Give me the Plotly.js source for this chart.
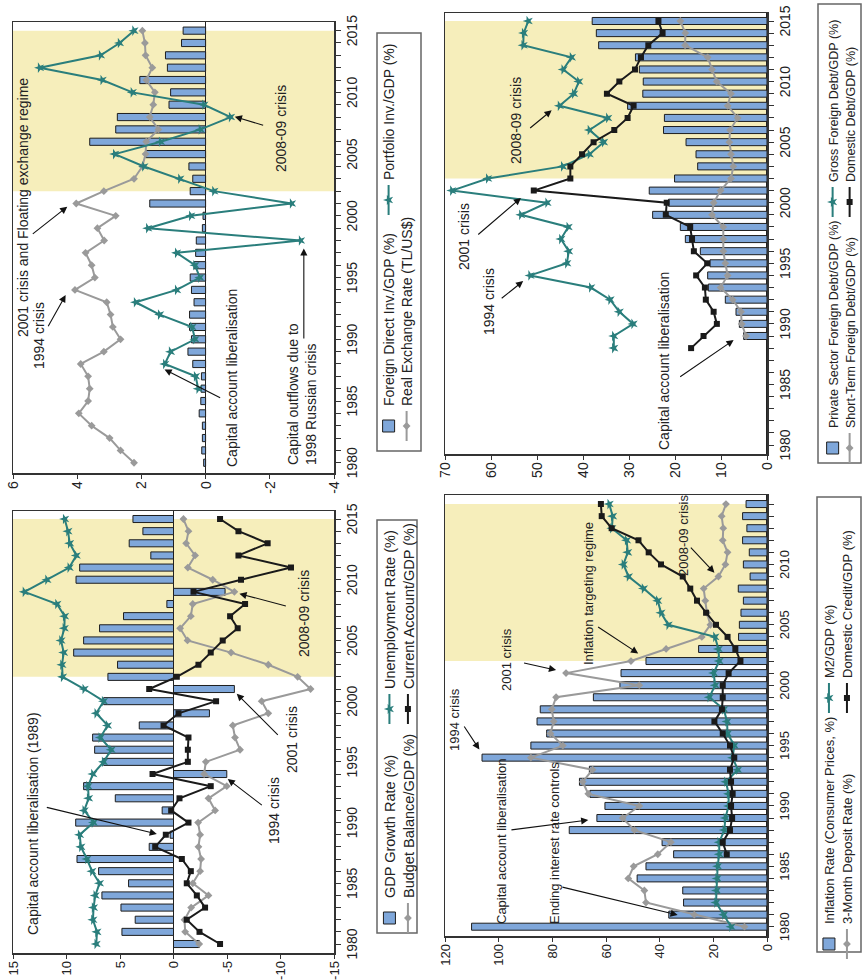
<!DOCTYPE html>
<html>
<head>
<meta charset="utf-8">
<script src="https://cdn.plot.ly/plotly-3.0.1.min.js"></script>
<style>
html,body{margin:0;padding:0;background:#fff;width:862px;height:980px;overflow:hidden}
#page{position:absolute;left:0;top:0;width:980px;height:862px;transform-origin:0 0;transform:translateY(980px) rotate(-90deg);background:#fff}
.panel{position:absolute;height:431px}
</style>
</head>
<body>
<div id="page">
  <div id="gdp" class="panel" style="left:0;top:0;width:490px"></div>
  <div id="fdi" class="panel" style="left:480px;top:0;width:500px"></div>
  <div id="infl" class="panel" style="left:0;top:431px;width:490px"></div>
  <div id="debt" class="panel" style="left:490px;top:431px;width:490px"></div>
</div>
<script>
// ---------------- DATA ----------------
const years = [1980,1981,1982,1983,1984,1985,1986,1987,1988,1989,1990,1991,1992,1993,1994,1995,1996,1997,1998,1999,2000,2001,2002,2003,2004,2005,2006,2007,2008,2009,2010,2011,2012,2013,2014,2015];

// Panel: GDP growth, unemployment, budget balance, current account (%)
const gdpGrowth = [-2.43,4.82,3.58,4.91,6.69,4.2,7.0,9.02,2.27,0.31,9.14,1.06,5.44,8.4,-4.98,6.53,7.37,7.56,3.2,-3.36,6.53,-5.69,6.13,5.23,9.33,8.4,6.91,4.67,0.62,-4.82,9.11,8.77,2.12,4.14,2.86,3.79];
const unemployment = [7.22,7.15,7.53,7.47,7.31,6.91,7.62,8.09,8.65,8.77,7.47,8.34,7.93,7.99,7.53,6.53,5.82,6.84,6.16,7.22,6.53,8.34,10.36,10.42,10.26,10.51,10.2,10.17,10.89,13.93,11.82,9.74,9.08,9.7,9.86,10.17];
const budgetBalance = [-2.4,-1.09,-1.03,-1.65,-3.27,-1.8,-2.49,-2.58,-2.33,-2.49,-2.3,-3.89,-3.27,-4.98,-2.86,-3.02,-6.22,-5.75,-5.54,-8.86,-8.24,-12.81,-11.6,-8.86,-5.38,-1.31,-0.62,-1.62,-1.8,-5.69,-3.67,-1.34,-2.02,-1.18,-1.4,-0.93];
const currentAccount = [-4.35,-2.43,-1.24,-2.95,-2.18,-1.24,-1.62,-0.78,1.71,0.72,-1.4,0.22,-0.56,-3.48,1.96,-1.34,-1.34,-1.4,0.93,-0.47,-3.98,2.27,-0.31,-2.33,-3.48,-4.6,-6.0,-5.29,-6.69,-1.87,-6.31,-10.98,-6.07,-8.8,-6.07,-4.35];

// Panel: FDI, portfolio investment (% GDP), real exchange rate (TL/US$)
const fdiGDP = [0.06,0.12,0.1,0.1,0.2,0.15,0.14,0.13,0.4,0.55,0.44,0.5,0.5,0.36,0.44,0.48,0.36,0.31,0.29,0.1,0.08,1.74,0.48,0.4,0.52,1.87,3.61,2.8,2.75,1.14,1.09,2.05,1.19,1.25,0.75,0.7];
const portfolioGDP = [null,null,null,null,null,null,0.23,0.31,1.27,1.09,0.33,0.42,1.43,2.18,0.9,0.18,0.33,0.9,-2.96,1.8,0.46,-2.68,-0.26,0.8,1.92,2.83,1.4,0.16,-0.78,0.05,2.28,3.22,5.17,3.27,2.68,2.23];
const realExRate = [2.23,2.65,2.99,3.55,3.95,3.66,3.61,3.66,3.89,3.17,2.65,2.89,2.96,3.08,4.07,3.45,3.55,3.74,3.16,3.37,2.8,4.03,3.17,2.23,1.97,1.87,1.85,1.47,1.74,1.63,1.58,1.85,1.66,1.87,1.89,1.97];

// Panel: inflation, deposit rate, M2/GDP, domestic credit/GDP (%)
const inflation = [110.1,36.6,31.1,31.4,48.4,45.1,34.8,39.1,73.7,63.4,60.4,66.0,69.9,66.2,106.2,88.0,82.1,85.7,84.5,64.7,54.8,54.4,45.1,25.5,10.6,10.3,9.7,8.8,10.7,6.3,8.8,6.6,9.1,7.5,9.1,7.8];
const depositRate = [8.4,27.1,45.1,45.7,51.7,49.7,40.7,35.8,49.4,53.8,47.6,66.6,68.7,65.0,88.0,76.1,80.7,79.5,80.2,78.6,47.6,74.9,50.7,37.6,24.3,21.1,22.4,23.0,23.6,18.1,15.5,14.7,16.5,16.3,16.9,15.3];
const m2GDP = [13.4,16.1,19.0,18.8,18.6,18.4,17.8,17.8,15.9,15.5,14.3,14.3,15.3,10.9,12.8,12.2,14.7,14.9,16.1,21.5,19.3,19.9,17.8,18.1,19.4,36.8,39.5,40.7,46.0,51.6,53.5,51.9,52.3,57.8,57.5,58.8];
const domesticCredit = [null,null,null,null,null,null,15.0,16.5,13.8,13.0,13.4,12.8,13.4,13.8,12.2,13.8,16.5,19.6,16.8,16.5,16.5,14.3,9.9,11.8,14.7,19.0,22.7,26.1,28.6,31.4,39.5,44.1,47.9,57.9,61.6,61.9];

// Panel: debt ratios (% GDP)
const privateDebt = [null,null,null,null,null,null,null,null,null,5.07,6.01,6.74,9.06,12.75,12.9,12.39,14.49,17.75,18.84,24.86,21.4,25.6,20.1,15.07,15.43,17.6,22.5,22.3,30.3,27.0,26.9,27.75,28.6,36.6,37.1,38.0];
const grossDebt = [null,null,null,null,null,null,null,null,33.3,33.3,29.1,32.1,34.1,38.3,51.5,43.5,43.1,44.8,43.2,53.5,47.8,68.5,60.7,44.4,38.6,35.5,38.6,34.6,45.1,42.0,40.9,44.3,42.5,53.0,52.9,51.9];
const shortTermDebt = [null,null,null,null,null,null,null,null,null,4.57,5.5,5.65,7.46,10.1,8.55,9.06,9.5,9.5,9.5,11.96,11.6,10.1,7.83,7.32,7.83,8.19,8.04,6.38,8.55,7.83,10.94,11.96,12.9,17.8,17.75,18.84];
const domesticDebt = [null,null,null,null,null,null,null,null,16.5,13.8,10.9,11.6,13.3,13.5,15.4,13.0,15.9,16.3,16.7,22.0,21.8,50.7,42.75,42.75,40.2,37.7,33.2,30.3,29.0,34.8,32.1,28.7,27.4,25.8,22.7,23.6];

// Tick labels
const gdpTicks = [-15,-10,-5,0,5,10,15];
const gdpTickText = ['-15','-10','-5','0','5','10','15'];
const fdiTicks = [-4,-2,0,2,4,6];
const fdiTickText = ['-4','-2','0','2','4','6'];
const inflTicks = [0,20,40,60,80,100,120];
const debtTicks = [0,10,20,30,40,50,60,70];
const shadeStart = 2002, shadeEnd = 2015;

// ---------------- STYLE ----------------
const FONT = '"Liberation Sans", Arial, Helvetica, sans-serif';
const INK = '#222';
const H = 431;
function bar(y, name, lg) {
  return {type:'bar', x:years, y:y, name:name, legend:lg, width:0.58,
    marker:{color:'#7fa7da', line:{color:'#1e1e1e', width:1}}, hoverinfo:'skip'};
}
function line(y, name, lg, kind) {
  const st = {
    gray:{c:'#9a9a9a', s:'diamond', z:6},
    teal:{c:'#2a7e7c', s:'star', z:8},
    black:{c:'#1a1a1a', s:'square', z:6}
  }[kind];
  return {type:'scatter', mode:'lines+markers', x:years, y:y, name:name, legend:lg,
    connectgaps:false, line:{color:st.c, width:2}, marker:{symbol:st.s, size:st.z, color:st.c},
    hoverinfo:'skip'};
}
function note(x, y, text, size, opts) {
  return Object.assign({x:x, y:y, xref:'x', yref:'y', text:text, showarrow:false,
    font:{family:FONT, size:size, color:INK}}, opts || {});
}
function arrow(x0, y0, x1, y1) {
  return {x:x1, y:y1, ax:x0, ay:y0, xref:'x', yref:'y', axref:'x', ayref:'y', text:'',
    showarrow:true, arrowhead:2, arrowsize:1.3, arrowwidth:1.1, arrowcolor:'#111', standoff:0, startstandoff:0};
}
function makeLayout(c) {
  const W = c.w;
  const [l, r, t, b] = c.m;
  const pw = W - l - r, ph = H - t - b;
  const px = v => (v - l) / pw, py = v => (H - b - v) / ph;
  const axisLine = {showline:true, mirror:true, linecolor:'#333', linewidth:1.5, showgrid:false};
  const lay = {
    width:W, height:H,
    margin:{l:l, r:r, t:t, b:b, pad:0},
    paper_bgcolor:'rgba(0,0,0,0)', plot_bgcolor:'#fff',
    font:{family:FONT, size:14, color:INK},
    showlegend:true, bargap:0, barmode:'overlay',
    xaxis:Object.assign({range:c.xr, tick0:1980, dtick:5, ticks:'outside', ticklen:5, tickcolor:'#333',
      minor:{dtick:1, ticks:'outside', ticklen:5, tickcolor:'#333'}, zeroline:false, fixedrange:true,
      tickfont:{family:FONT, size:c.xf, color:INK}}, axisLine),
    yaxis:Object.assign({range:c.yr, tickvals:c.yt, ticktext:c.ytt, ticks:'outside', ticklen:4, tickcolor:'#333',
      zeroline:true, zerolinecolor:'#222', zerolinewidth:1.3, fixedrange:true,
      tickfont:{family:FONT, size:c.yf, color:INK}}, axisLine),
    shapes:[
      {type:'rect', xref:'x', yref:'paper', x0:shadeStart, x1:shadeEnd, y0:0, y1:1,
        fillcolor:'#f6eebb', line:{width:0}, layer:'below'},
      {type:'rect', xref:'paper', yref:'paper', x0:px(c.box[0]), x1:px(c.box[2]), y0:py(c.box[1]), y1:py(c.box[3]),
        line:{color:'#666', width:1.5}, fillcolor:'rgba(0,0,0,0)', layer:'above'}
    ],
    annotations:c.ann
  };
  const lk = ['legend','legend2','legend3','legend4'];
  c.lg.forEach((p, i) => {
    lay[lk[i]] = {x:p[0]/W, y:1 - p[1]/H, xref:'container', yref:'container', xanchor:'left', yanchor:'middle',
      orientation:'h', borderwidth:0, bgcolor:'rgba(0,0,0,0)', itemwidth:30,
      font:{family:FONT, size:c.lf, color:INK}};
  });
  return lay;
}
const cfgPlot = {staticPlot:true, displayModeBar:false};

// ---------------- GDP PANEL ----------------
Plotly.newPlot('gdp', [
  bar(gdpGrowth, 'GDP Growth Rate (%)', 'legend'),
  line(budgetBalance, 'Budget Balance/GDP (%)', 'legend2', 'gray'),
  line(unemployment, 'Unemployment Rate (%)', 'legend3', 'teal'),
  line(currentAccount, 'Current Account/GDP (%)', 'legend4', 'black')
], makeLayout({
  w:490, m:[27,21,13,97], xr:[1979.26,2015.66], yr:[-15,15], yt:gdpTicks, ytt:gdpTickText, xf:14, yf:13,
  box:[47,377,460,417], lf:14.5, lg:[[42,389.5],[42,408],[251,389.5],[251,408]],
  ann:[
    note(1989.96, 13.16, 'Capital account liberalisation (1989)', 14),
    arrow(1991.28, 11.98, 1989.06, 1.56),
    note(1991.03, -9.39, '1994 crisis', 14),
    arrow(1991.34, -8.4, 1993.59, -5.07),
    note(1996.83, -11.04, '2001 crisis', 14),
    arrow(1997.1, -9.89, 2000.61, -5.91),
    note(2007.2, -12.19, '2008-09 crisis', 14),
    arrow(2007.81, -10.64, 2008.85, -6.16)
  ]
}), cfgPlot);

// ---------------- FDI PANEL ----------------
Plotly.newPlot('fdi', [
  bar(fdiGDP, 'Foreign Direct Inv./GDP (%)', 'legend'),
  line(realExRate, 'Real Exchange Rate (TL/US$)', 'legend2', 'gray'),
  line(portfolioGDP, 'Portfolio Inv./GDP (%)', 'legend3', 'teal')
], makeLayout({
  w:500, m:[27,22,13,97], xr:[1979.17,2015.7], yr:[-4,6], yt:fdiTicks, ytt:fdiTickText, xf:14, yf:14,
  box:[49,377,467,421], lf:14, lg:[[54,389],[54,407],[280,389]],
  ann:[
    note(2000.71, 5.69, '2001 crisis and Floating exchange regime', 14),
    arrow(1998.44, 5.43, 2000.74, 4.31),
    note(1990.32, 5.19, '1994 crisis', 14),
    arrow(1990.94, 4.93, 1993.58, 4.36),
    note(1986.86, -0.83, 'Capital account liberalisation', 14),
    arrow(1985.21, -0.5, 1987.56, 1.28),
    note(2007.09, -2.34, '2008-09 crisis', 14),
    arrow(2007.3, -1.84, 2008.03, -0.91),
    note(1979.68, -3.0, 'Capital outflows due to<br>1998 Russian crisis', 14, {xanchor:'left', align:'left'}),
    arrow(1989.94, -3.06, 1997.36, -3.06)
  ]
}), cfgPlot);

// ---------------- INFLATION PANEL ----------------
Plotly.newPlot('infl', [
  bar(inflation, 'Inflation Rate (Consumer Prices, %)', 'legend'),
  line(depositRate, '3-Month Deposit Rate (%)', 'legend2', 'gray'),
  line(m2GDP, 'M2/GDP (%)', 'legend3', 'teal'),
  line(domesticCredit, 'Domestic Credit/GDP (%)', 'legend4', 'black')
], makeLayout({
  w:490, m:[44,5,14,95], xr:[1979.23,2015.75], yr:[0,120], yt:inflTicks, ytt:null, xf:13, yf:13,
  box:[28,386,483,430], lf:13, lg:[[16,398],[16,416],[262,398],[262,416]],
  ann:[
    note(1997.17, 116.5, '1994 crisis', 13),
    arrow(1996.7, 113.2, 1994.68, 107.2),
    note(2002.14, 96.9, '2001 crisis', 13),
    arrow(2001.86, 91.1, 2001.25, 78.6),
    note(2007.63, 66.6, 'Inflation targeting regime', 13),
    arrow(2004.9, 63.5, 2002.63, 48.0),
    note(2012.4, 31.2, '2008-09 crisis', 13),
    arrow(2011.52, 28.9, 2009.31, 19.6),
    note(1987.04, 99.1, 'Capital account liberalisation', 13),
    arrow(1988.0, 95.8, 1988.83, 66.6),
    note(1986.93, 79.3, 'Ending interest rate controls', 13),
    arrow(1983.31, 76.8, 1980.97, 33.3)
  ]
}), cfgPlot);

// ---------------- DEBT PANEL ----------------
Plotly.newPlot('debt', [
  bar(privateDebt, 'Private Sector Foreign Debt/GDP (%)', 'legend'),
  line(shortTermDebt, 'Short-Term Foreign Debt/GDP (%)', 'legend2', 'gray'),
  line(grossDebt, 'Gross Foreign Debt/GDP (%)', 'legend3', 'teal'),
  line(domesticDebt, 'Domestic Debt/GDP (%)', 'legend4', 'black')
], makeLayout({
  w:490, m:[36,13,14,95], xr:[1979.26,2015.66], yr:[0,70], yt:debtTicks, ytt:null, xf:14, yf:14,
  box:[27,387,486,430], lf:12.5, lg:[[22,402],[22,419],[268,402],[268,419]],
  ann:[
    note(2006.81, 54.57, '2008-09 crisis', 14),
    arrow(2006.07, 51.81, 2007.63, 46.81),
    note(1997.21, 65.8, '2001 crisis', 14),
    arrow(1997.27, 63.1, 2000.4, 53.5),
    note(1991.82, 60.36, '1994 crisis', 14),
    arrow(1992.02, 58.0, 1993.53, 53.0),
    note(1986.9, 22.3, 'Capital account liberalisation', 14),
    arrow(1985.55, 19.2, 1988.66, 7.25)
  ]
}), cfgPlot);
</script>
</body>
</html>
